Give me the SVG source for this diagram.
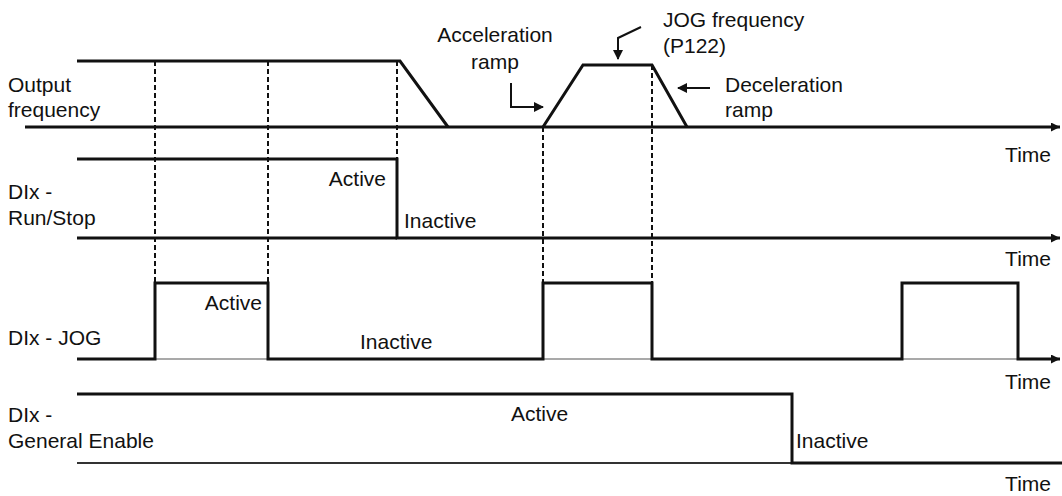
<svg xmlns="http://www.w3.org/2000/svg" width="1062" height="496" viewBox="0 0 1062 496">
<style>
text{font-family:"Liberation Sans",Arial,sans-serif;font-size:21px;fill:#111}
.sig{fill:none;stroke:#111;stroke-width:3;stroke-linejoin:miter}
.thin{fill:none;stroke:#555;stroke-width:1.2}
.base{fill:none;stroke:#333;stroke-width:2}
.dash{fill:none;stroke:#111;stroke-width:2;stroke-dasharray:5 3}
.ptr{fill:none;stroke:#111;stroke-width:2}
.r{text-anchor:end}
.m{text-anchor:middle}
</style>
<defs>
<marker id="ah" viewBox="0 0 10 10" refX="9" refY="5" markerWidth="10" markerHeight="10" markerUnits="userSpaceOnUse" orient="auto">
<path d="M0,0L10,5L0,10z" fill="#111"/>
</marker>
<marker id="ax" viewBox="0 0 10 10" refX="10" refY="5" markerWidth="9" markerHeight="9" markerUnits="userSpaceOnUse" orient="auto">
<path d="M0,0L10,5L0,10z" fill="#111"/>
</marker>
</defs>
<g id="guides">
<path class="dash" d="M155,61V283M268,61V283M397,61V159M543,127V283M652,65V283"/>
</g>
<g id="connectors">
<path class="ptr" d="M511,83V107H543" marker-end="url(#ah)"/>
<path class="ptr" d="M641,27L618,38V59" marker-end="url(#ah)"/>
<path class="ptr" d="M710,88H678" marker-end="url(#ah)"/>
</g>
<g id="output-frequency">
<path class="sig" d="M25,127H1060" marker-end="url(#ax)"/>
<path class="sig" d="M77,61H400L448,127"/>
<path class="sig" d="M543,127L583,65H652L687,127"/>
<text x="8" y="92">Output</text>
<text x="8" y="117">frequency</text>
<text class="r" x="1051" y="162">Time</text>
</g>
<g id="run-stop">
<path class="sig" d="M77,159H397V238H1060" marker-end="url(#ax)"/>
<path class="sig" d="M77,238H397"/>
<text x="8" y="199">DIx -</text>
<text x="8" y="225">Run/Stop</text>
<text class="r" x="386" y="186">Active</text>
<text x="404" y="228">Inactive</text>
<text class="r" x="1051" y="266">Time</text>
</g>
<g id="jog">
<path class="thin" d="M155,359H268M543,359H652M902,359H1018"/>
<path class="sig" d="M77,359H155V283H268V359H543V283H652V359H902V283H1018V359H1060" marker-end="url(#ax)"/>
<text x="8" y="345">DIx - JOG</text>
<text class="r" x="262" y="310">Active</text>
<text x="360" y="349">Inactive</text>
<text class="r" x="1051" y="389">Time</text>
</g>
<g id="general-enable">
<path class="base" d="M77,463H792"/>
<path class="sig" d="M77,394H792V463H1062"/>
<text x="8" y="422">DIx -</text>
<text x="8" y="448">General Enable</text>
<text x="511" y="421">Active</text>
<text x="796" y="448">Inactive</text>
<text class="r" x="1051" y="491">Time</text>
</g>
<g id="annotations">
<text class="m" x="495" y="42">Acceleration</text>
<text class="m" x="495" y="69">ramp</text>
<text x="663" y="27">JOG frequency</text>
<text x="663" y="53">(P122)</text>
<text x="725" y="92">Deceleration</text>
<text x="725" y="117">ramp</text>
</g>
</svg>
